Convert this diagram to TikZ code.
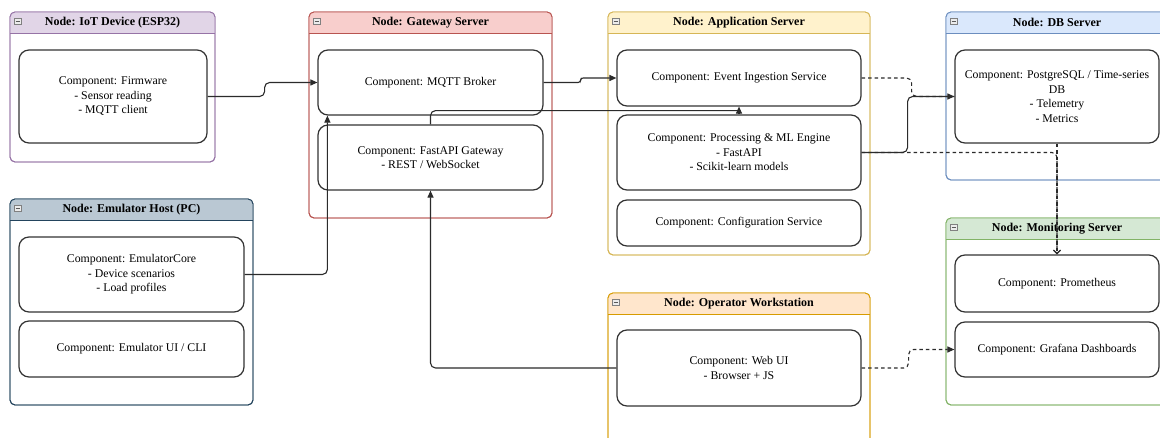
\documentclass[tikz,border=0pt]{standalone}
\usepackage{fontspec}
\setmainfont{Liberation Serif}
\usetikzlibrary{arrows.meta,calc}

% header fills and borders of the deployment nodes
\definecolor{purpleFill}{HTML}{E1D5E7}\definecolor{purpleLine}{HTML}{9673A6}
\definecolor{redFill}{HTML}{F8CECC}\definecolor{redLine}{HTML}{B85450}
\definecolor{yellowFill}{HTML}{FFF2CC}\definecolor{yellowLine}{HTML}{D6B656}
\definecolor{blueFill}{HTML}{DAE8FC}\definecolor{blueLine}{HTML}{6C8EBF}
\definecolor{slateFill}{HTML}{BAC8D3}\definecolor{slateLine}{HTML}{23445D}
\definecolor{orangeFill}{HTML}{FFE6CC}\definecolor{orangeLine}{HTML}{D79B00}
\definecolor{greenFill}{HTML}{D5E8D4}\definecolor{greenLine}{HTML}{82B366}
\definecolor{compLine}{HTML}{333333}
\definecolor{wireCol}{HTML}{2B2B2B}

\tikzset{
  nodebox/.style={draw=#1, line width=0.9pt, rounded corners=5pt, fill=white, inner sep=0pt},
  nodetitle/.style={font=\bfseries\fontsize{12}{14}\selectfont, inner sep=0pt},
  compbox/.style={draw=compLine, line width=1.2pt, rounded corners=10pt, fill=white,
    align=center, inner sep=2pt, font=\fontsize{11.8}{14.5}\selectfont},
  wire/.style={draw=wireCol, line width=1.1pt, rounded corners=5pt},
  conn/.style={wire, -{Triangle[length=7pt,width=6pt]}},
  dconn/.style={conn, dash pattern=on 3.5pt off 3pt},
  dline/.style={wire, dash pattern=on 3.5pt off 3pt},
  oconn/.style={dline, -{Straight Barb[length=3.5pt,width=7pt]}},
}

% deployment node: name, x1, y1, x2, y2, fill, border, title
\newcommand\deploynode[8]{%
  \node[nodebox=#7, minimum width={(#4-#2)*1pt}, minimum height={(#5-#3)*1pt}]
    (#1) at ({(#2+#4)/2},{(#3+#5)/2}) {};
  \begin{scope}
    \clip[rounded corners=5pt] (#2,#3) rectangle (#4,#5);
    \fill[#6] (#2,#3) rectangle (#4,#3+21);
  \end{scope}
  \draw[#7, line width=0.9pt, rounded corners=5pt] (#2,#3) rectangle (#4,#5);
  \draw[#7, line width=0.8pt] (#2,#3+21) -- (#4,#3+21);
  \draw[gray, fill=gray!15, line width=0.5pt] (#2+4,#3+6) rectangle (#2+11,#3+12);
  \draw[gray!70!black, line width=0.6pt] (#2+5.5,#3+9) -- (#2+9.5,#3+9);
  \node[nodetitle] (#1-title) at ({(#2+#4)/2},#3+10.8) {#8};
}

% component: name, x1, y1, x2, y2, text
\newcommand\compbox[6]{%
  \node[compbox, minimum width={(#4-#2)*1pt}, minimum height={(#5-#3)*1pt}]
    (#1) at ({(#2+#4)/2},{(#3+#5)/2}) {#6};
}

\begin{document}
\begin{tikzpicture}[x=1pt,y=-1pt]
\useasboundingbox (0,0) rectangle (1160,438);
\fill[white] (0,0) rectangle (1160,438);

% deployment nodes
\deploynode{iot}{10}{12}{215}{162}{purpleFill}{purpleLine}{Node: IoT Device (ESP32)}
\deploynode{gws}{309}{12}{552}{218}{redFill}{redLine}{Node: Gateway Server}
\deploynode{apps}{608}{12}{870}{255}{yellowFill}{yellowLine}{Node: Application Server}
\deploynode{dbs}{946}{12}{1168}{180}{blueFill}{blueLine}{Node: DB Server}
\deploynode{emu}{10}{199}{253}{405}{slateFill}{slateLine}{Node: Emulator Host (PC)}
\deploynode{ops}{608}{293}{870}{452}{orangeFill}{orangeLine}{Node: Operator Workstation}
\deploynode{mon}{946}{218}{1168}{405}{greenFill}{greenLine}{Node: Monitoring Server}

% components
\compbox{fw}{19}{50}{207}{143}{Component: Firmware\\- Sensor reading\\- MQTT client}
\compbox{mqtt}{318}{50}{543}{115}{Component: MQTT Broker}
\compbox{fa}{318}{125}{543}{190}{Component: FastAPI Gateway\\- REST / WebSocket}
\compbox{ev}{617}{50}{861}{106}{Component: Event Ingestion Service}
\compbox{proc}{617}{115}{861}{190}{Component: Processing \& ML Engine\\- FastAPI\\- Scikit-learn models}
\compbox{cfg}{617}{200}{861}{246}{Component: Configuration Service}
\compbox{db}{955}{50}{1159}{143}{Component: PostgreSQL / Time-series\\DB\\- Telemetry\\- Metrics}
\compbox{ec}{19}{237}{244}{312}{Component: EmulatorCore\\- Device scenarios\\- Load profiles}
\compbox{eui}{19}{321}{244}{377}{Component: Emulator UI / CLI}
\compbox{web}{617}{330}{861}{406}{Component: Web UI\\- Browser + JS}
\compbox{prom}{955}{255}{1159}{312}{Component: Prometheus}
\compbox{graf}{955}{322}{1159}{377}{Component: Grafana Dashboards}

% connectors
\draw[conn] (fw.east) -- ++(57,0) |- (mqtt.west);
\draw[conn] (ec.east) -| ($(mqtt.south west)+(10,0)$);
\draw[conn, rounded corners=2.5pt] (mqtt.east) -- ++(37,0) |- (ev.west);
\draw[wire] (fa.north) |- ($(ev.south)+(0,4)$);
\draw[conn] ($(ev.south)+(0,7)$) -- (ev.south);
\draw[dline] (ev.east) -- ++(50,0) |- (db.west);
\draw[conn] (proc.east) -- ++(46,0) |- (db.west);
\draw[oconn] (proc.east) -| (prom.north);
\draw[oconn] (db.south) -- (prom.north);
\draw[conn] (web.west) -| (fa.south);
\draw[dconn] (web.east) -- ++(47,0) |- (graf.west);
\end{tikzpicture}
\end{document}
